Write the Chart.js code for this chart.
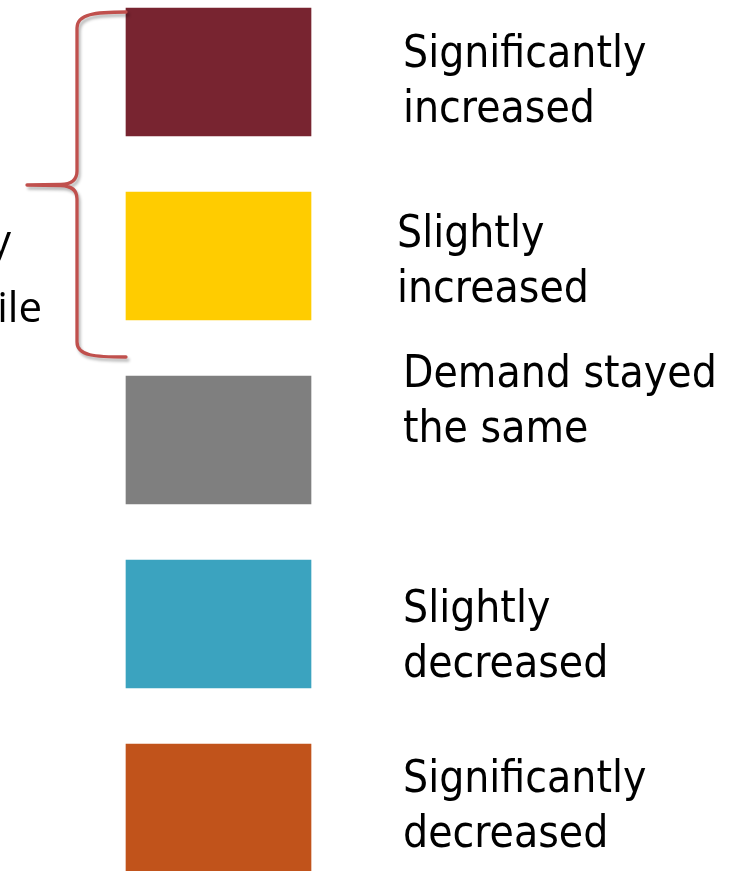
<!DOCTYPE html>
<html>
<head>
<meta charset="utf-8">
<script src="https://cdn.jsdelivr.net/npm/chart.js@4"></script>
<style>
  html, body { margin: 0; padding: 0; background: #fff; }
  canvas { display: block; }
</style>
</head>
<body>
<canvas id="chart" width="736" height="871"></canvas>
<script>
// legend categories, one box each
const categories = ["Significantly increased", "Slightly increased", "Demand stayed the same", "Slightly decreased", "Significantly decreased"];
const labelLines = [["Significantly", "increased"], ["Slightly", "increased"], ["Demand stayed", "the same"], ["Slightly", "decreased"], ["Significantly", "decreased"]];
const values = [1, 1, 1, 1, 1];
const boxColors = ["#782430", "#FFCC00", "#7F7F7F", "#3BA3BF", "#C1531B"];
// cut-off words on the left edge
const sideWords = ["y", "ile"];

// text placement next to each box (gap from box, baseline shift from box centre)
const textGap = [92, 86, 92, 92, 92];
const textShift = [-5, -9, -53, -2, -16];

const braceColor = "#C0504D";

const labelPlugin = {
  id: "boxLabels",
  afterDatasetsDraw(chart) {
    const ctx = chart.ctx;
    const meta = chart.getDatasetMeta(0);
    ctx.save();
    ctx.fillStyle = "#000";
    ctx.font = "44px 'DejaVu Sans Condensed', 'DejaVu Sans', sans-serif";
    ctx.textAlign = "left";
    ctx.textBaseline = "alphabetic";
    meta.data.forEach((bar, i) => {
      const x = bar.x + textGap[i];
      labelLines[i].forEach((line, j) => {
        ctx.fillText(line, x, bar.y + textShift[i] + j * 55);
      });
    });
    ctx.restore();
  }
};

// curly brace grouping the two "increased" boxes
const bracePlugin = {
  id: "brace",
  afterDraw(chart) {
    const ctx = chart.ctx;
    const meta = chart.getDatasetMeta(0);
    const top = meta.data[0];
    const second = meta.data[1];
    const left = chart.chartArea.left;
    const y0 = top.y - top.height / 2 + 4;
    const y1 = second.y + second.height / 2 + 37;
    const tipY = (y0 + y1) / 2 + 0.5;
    const spine = left - 49;
    const tipX = left - 99;
    ctx.save();
    ctx.strokeStyle = braceColor;
    ctx.lineWidth = 3.3;
    ctx.lineJoin = "round";
    ctx.lineCap = "round";
    ctx.shadowColor = "rgba(0,0,0,0.28)";
    ctx.shadowOffsetX = 2;
    ctx.shadowOffsetY = 3;
    ctx.shadowBlur = 3;
    ctx.beginPath();
    ctx.moveTo(left, y0);
    ctx.bezierCurveTo(spine + 18, y0, spine, y0 + 2, spine, y0 + 16);
    ctx.lineTo(spine, tipY - 14);
    ctx.quadraticCurveTo(spine, tipY - 1, spine - 16, tipY - 0.5);
    ctx.lineTo(tipX, tipY);
    ctx.lineTo(spine - 16, tipY + 0.5);
    ctx.quadraticCurveTo(spine, tipY + 1, spine, tipY + 14);
    ctx.lineTo(spine, y1 - 15);
    ctx.bezierCurveTo(spine, y1 - 1, spine + 18, y1, left, y1);
    ctx.stroke();
    ctx.restore();

    ctx.save();
    ctx.fillStyle = "#000";
    ctx.font = "42px 'Open Sans', sans-serif";
    ctx.textAlign = "right";
    ctx.fillText(sideWords[0], 11, 255);
    ctx.fillText(sideWords[1], 42, 322);
    ctx.restore();
  }
};

new Chart(document.getElementById("chart"), {
  type: "bar",
  data: {
    labels: categories,
    datasets: [{
      data: values,
      backgroundColor: boxColors,
      borderWidth: 0,
      barThickness: 128,
      clip: false
    }]
  },
  options: {
    indexAxis: "y",
    responsive: false,
    animation: false,
    layout: { padding: { left: 126, right: 425, top: 72, bottom: 63 } },
    scales: {
      x: { display: false, min: 0, max: 1 },
      y: { display: false, offset: false }
    },
    plugins: {
      legend: { display: false },
      tooltip: { enabled: false }
    }
  },
  plugins: [labelPlugin, bracePlugin]
});
</script>
</body>
</html>
